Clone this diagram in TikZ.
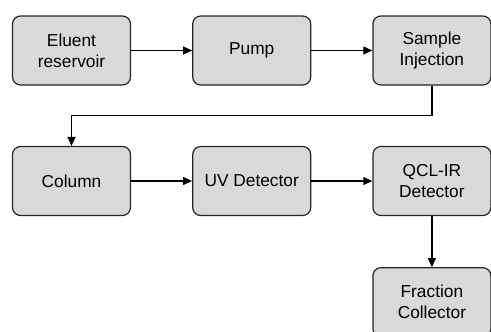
\documentclass[tikz,border=0pt]{standalone}
\usepackage{fontspec}
\setmainfont{Liberation Sans}
\usetikzlibrary{positioning,arrows.meta}

\begin{document}
\begin{tikzpicture}[
  x=1pt, y=-1pt,
  node distance=61pt,
  stage/.style={rectangle, rounded corners=8pt, draw=black!85, line width=1.2pt,
    fill=gray!30, minimum width=118pt, minimum height=69pt, inner sep=0pt,
    align=center, font=\fontsize{17.3}{21}\selectfont},
  flow/.style={draw, line width=1.2pt, -{Triangle[length=9pt,width=8pt]}}
]
  \useasboundingbox (0,0) rectangle (491,332);

  % first row
  \node[stage] (reservoir) at (71.5,50.5) {Eluent\\reservoir};
  \node[stage] (pump) [right=of reservoir] {Pump};
  \node[stage] (inject) [right=of pump] {Sample\\Injection};

  % second row
  \node[stage] (column) at (71.5,181) {Column};
  \node[stage] (uvdet) [right=of column] {UV Detector};
  \node[stage] (qclir) [right=of uvdet] {QCL-IR\\Detector};

  % last stage
  \node[stage] (fraction) [below=51pt of qclir] {Fraction\\Collector};

  \draw[flow] (reservoir) -- (pump);
  \draw[flow] (pump) -- (inject);
  \draw[flow] (inject.south) |- (71.5,115.5) -- (column.north);
  \draw[flow] (column) -- (uvdet);
  \draw[flow] (uvdet) -- (qclir);
  \draw[flow] (qclir) -- (fraction);
\end{tikzpicture}
\end{document}
